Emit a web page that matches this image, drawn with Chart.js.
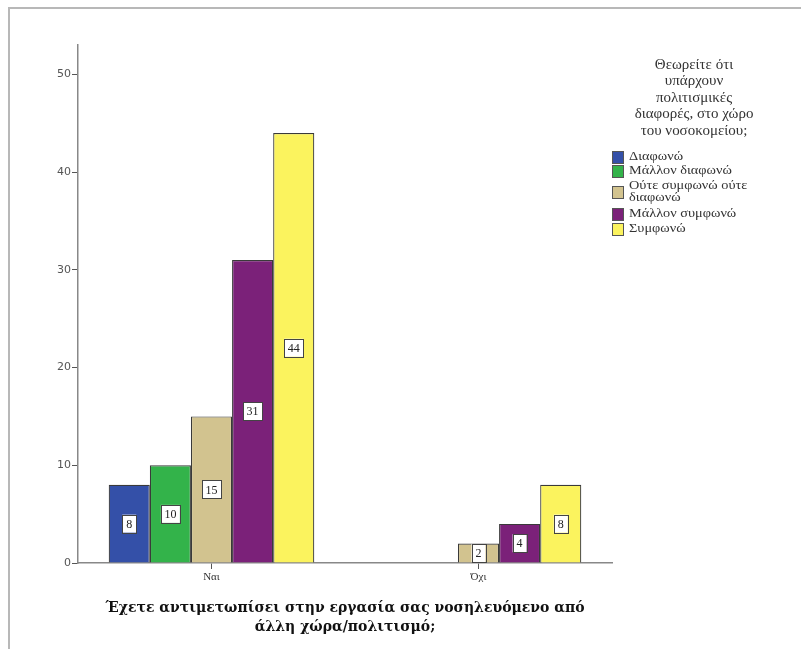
<!DOCTYPE html>
<html>
<head>
<meta charset="utf-8">
<script src="https://cdn.jsdelivr.net/npm/chart.js@4/dist/chart.umd.min.js"></script>
<style>
  html, body { margin: 0; padding: 0; background: #fff; }
  #wrap { position: relative; width: 801px; height: 649px; }
  #frame { position: absolute; left: 8px; top: 7px; width: 800px; height: 650px;
           border-left: 2px solid #b8b8b8; border-top: 2px solid #b8b8b8; box-sizing: border-box; }
</style>
</head>
<body>
<div id="wrap">
  <div id="frame"></div>
  <canvas id="chart" width="801" height="649"></canvas>
</div>
<script>
// categories on the x axis
const categories = ['Ναι', 'Όχι'];
// legend series (answers)
const seriesNames = ['Διαφωνώ', 'Μάλλον διαφωνώ', 'Ούτε συμφωνώ ούτε διαφωνώ', 'Μάλλον συμφωνώ', 'Συμφωνώ'];
const legendLines = [['Διαφωνώ'], ['Μάλλον διαφωνώ'], ['Ούτε συμφωνώ ούτε', 'διαφωνώ'], ['Μάλλον συμφωνώ'], ['Συμφωνώ']];
const seriesColors = ['#3450a8', '#33b34a', '#d2c38f', '#7b2179', '#fbf35e'];
// counts per answer, [Ναι, Όχι]
const diafono = [8, null];
const mallonDiafono = [10, null];
const oute = [15, 2];
const mallonSymfono = [31, 4];
const symfono = [44, 8];
const yTicks = [0, 10, 20, 30, 40, 50];
const legendTitle = ['Θεωρείτε ότι', 'υπάρχουν', 'πολιτισμικές', 'διαφορές, στο χώρο', 'του νοσοκομείου;'];
const xTitle = ['Έχετε αντιμετωπίσει στην εργασία σας νοσηλευόμενο από', 'άλλη χώρα/πολιτισμό;'];

const seriesData = [diafono, mallonDiafono, oute, mallonSymfono, symfono];

const serif = '"Liberation Serif", "DejaVu Serif", serif';

// white boxed value labels in the middle of each bar
const valueLabels = {
  id: 'valueLabels',
  afterDatasetsDraw(chart) {
    const ctx = chart.ctx;
    ctx.save();
    ctx.font = '12px ' + serif;
    ctx.textAlign = 'center';
    ctx.textBaseline = 'middle';
    chart.data.datasets.forEach((ds, i) => {
      chart.getDatasetMeta(i).data.forEach((bar, j) => {
        const v = ds.data[j];
        if (v == null) return;
        const cx = bar.x;
        const cy = (bar.y + bar.base) / 2;
        const w = String(v).length > 1 ? 19 : 14, h = 18;
        ctx.fillStyle = '#fff';
        ctx.fillRect(cx - w / 2, cy - h / 2, w, h);
        ctx.strokeStyle = '#444';
        ctx.lineWidth = 1;
        ctx.strokeRect(Math.round(cx - w / 2) + 0.5, Math.round(cy - h / 2) + 0.5, w, h);
        ctx.fillStyle = '#222';
        ctx.fillText(String(v), cx, cy + 1);
      });
    });
    ctx.restore();
  }
};

// stretched text, like the reference export
function wideText(ctx, text, x, y, sx) {
  ctx.save();
  ctx.translate(x, y);
  ctx.scale(sx, 1);
  ctx.fillText(text, 0, 0);
  ctx.restore();
}

// legend with a multi-line title at the right
const sideLegend = {
  id: 'sideLegend',
  afterDraw(chart) {
    const ctx = chart.ctx;
    ctx.save();
    ctx.fillStyle = '#333';
    ctx.font = '14px ' + serif;
    ctx.textAlign = 'center';
    ctx.textBaseline = 'middle';
    legendTitle.forEach((t, i) => wideText(ctx, t, 694, 65 + i * 16.5, 1.07));
    ctx.textAlign = 'left';
    ctx.font = '13px ' + serif;
    const rows = [157, 171, 192, 214, 229];
    chart.data.datasets.forEach((ds, i) => {
      const y = rows[i];
      ctx.fillStyle = ds.backgroundColor;
      ctx.fillRect(612, y - 6, 11, 12);
      ctx.strokeStyle = '#555';
      ctx.lineWidth = 1;
      ctx.strokeRect(612.5, y - 5.5, 11, 12);
      ctx.fillStyle = '#333';
      const lines = legendLines[i];
      const y0 = y - (lines.length - 1) * 6;
      lines.forEach((l, k) => wideText(ctx, l, 629, y0 + k * 12, 1.1));
    });
    ctx.restore();
  }
};

new Chart(document.getElementById('chart'), {
  type: 'bar',
  data: {
    labels: categories,
    datasets: seriesNames.map((name, i) => ({
      label: name,
      data: seriesData[i],
      backgroundColor: seriesColors[i],
      borderColor: '#3a3a3a',
      borderWidth: 1.2,
      categoryPercentage: 0.77,
      barPercentage: 1
    }))
  },
  options: {
    responsive: false,
    animation: false,
    layout: { padding: { left: 0, right: 189, top: 45, bottom: 0 } },
    plugins: {
      legend: { display: false },
      tooltip: { enabled: false }
    },
    scales: {
      x: {
        grid: { display: true, drawOnChartArea: false, offset: false, tickLength: 6, color: '#555' },
        border: { color: '#888', width: 1.5 },
        ticks: { color: '#333', font: { family: serif, size: 11 }, padding: 2 },
        title: {
          display: true,
          text: xTitle,
          color: '#111',
          font: { family: '"DejaVu Serif", serif', size: 14, weight: 'bold', lineHeight: 1.35 },
          padding: { top: 4, bottom: 12 }
        },
        afterFit(scale) { scale.height = 86; }
      },
      y: {
        min: 0,
        max: 53,
        grid: { display: true, drawOnChartArea: false, tickLength: 6, color: '#555' },
        border: { color: '#888', width: 1.5 },
        ticks: { stepSize: 10, color: '#555', font: { family: '"DejaVu Sans", sans-serif', size: 11 }, padding: 1 },
        afterBuildTicks(scale) { scale.ticks = yTicks.map(v => ({ value: v })); },
        afterFit(scale) { scale.width = 78; }
      }
    }
  },
  plugins: [valueLabels, sideLegend]
});
</script>
</body>
</html>
